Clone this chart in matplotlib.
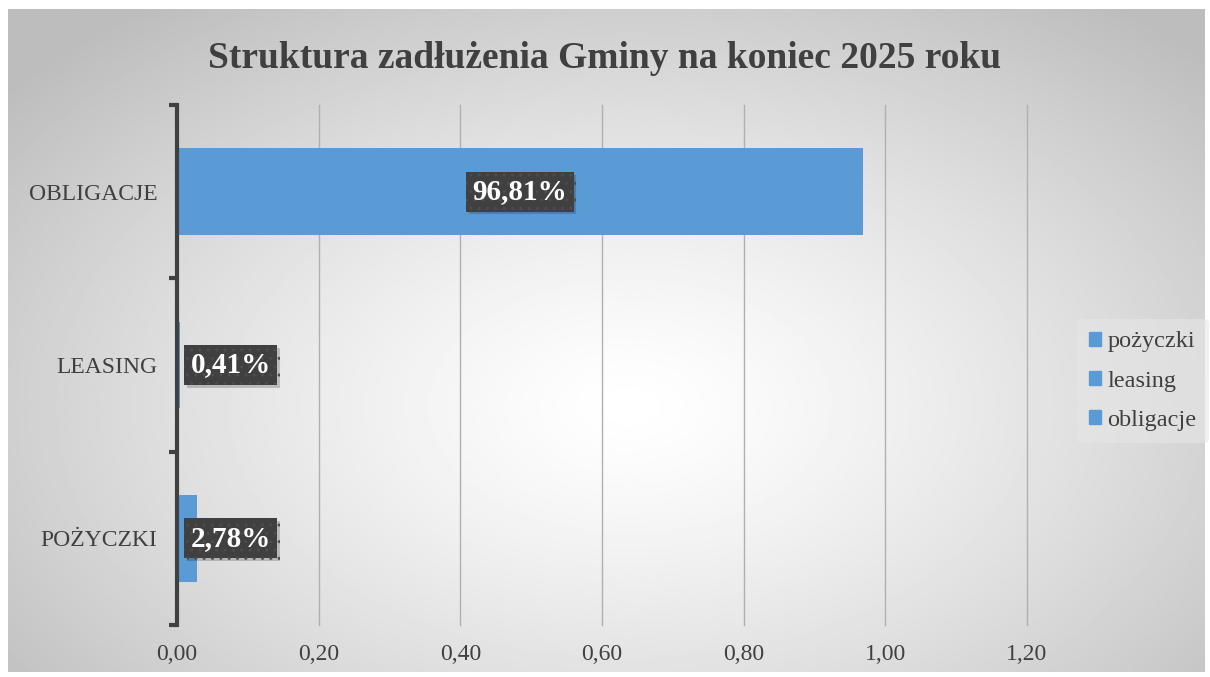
import numpy as np
import matplotlib.pyplot as plt
from matplotlib import patheffects as pe

categories = ["POŻYCZKI", "LEASING", "OBLIGACJE"]
values = [0.0278, 0.0041, 0.9681]
value_labels = ["2,78%", "0,41%", "96,81%"]
legend_labels = ["pożyczki", "leasing", "obligacje"]
x_ticks = [0.0, 0.2, 0.4, 0.6, 0.8, 1.0, 1.2]

BLUE = "#5B9BD5"
TXT = "#404040"
W, H = 1210, 677

plt.rcParams["font.family"] = ["Liberation Serif", "DejaVu Serif"]

fig = plt.figure(figsize=(W / 100, H / 100), dpi=100)
fig.patch.set_facecolor("white")

# radial gradient background of the chart area
bg = fig.add_axes([8 / W, 5 / H, 1197 / W, 663 / H])
yy, xx = np.mgrid[0:1:300j, 0:1:500j]
r = np.sqrt(((xx - 0.52) / 0.75) ** 2 + ((yy - 0.40) / 0.85) ** 2)
shade = np.clip(1.0 - 0.30 * r ** 1.3, 0.74, 1.0)
bg.imshow(shade, cmap="gray", vmin=0, vmax=1, aspect="auto", extent=[0, 1, 0, 1], origin="lower")
bg.set_axis_off()

ax = fig.add_axes([177 / W, (H - 625) / H, (1027 - 177) / W, (625 - 105) / H])
ax.patch.set_alpha(0)
y = np.arange(len(categories))
ax.barh(y, values, height=0.5, color=BLUE, zorder=3)
ax.set_xlim(0, 1.2)
ax.set_ylim(-0.5, len(categories) - 0.5)

ax.set_xticks(x_ticks)
ax.set_xticklabels([f"{t:.2f}".replace(".", ",") for t in x_ticks], fontsize=17, color=TXT)
ax.tick_params(axis="x", length=0, pad=14)
for xt in x_ticks[1:]:
    ax.axvline(xt, color="#b0b0b0", linewidth=1, zorder=0, clip_on=False)

ax.set_yticks(y)
ax.set_yticklabels(categories, fontsize=17, color=TXT)
ax.tick_params(axis="y", which="major", length=0, pad=14)
ax.set_yticks(np.arange(-0.5, len(categories)), minor=True)
ax.tick_params(axis="y", which="minor", length=6, width=3, color=TXT)

for s in ["top", "right", "bottom"]:
    ax.spines[s].set_visible(False)
ax.spines["left"].set_color(TXT)
ax.spines["left"].set_linewidth(3)
ax.spines["left"].set_zorder(4)

for yi, v, lab in zip(y, values, value_labels):
    if v > 0.2:
        xpos, ha = v / 2, "center"
    else:
        xpos, ha = 0.019, "left"
    t = ax.text(xpos, yi, lab, ha=ha, va="center", fontsize=21, fontweight="bold", color="white",
                zorder=5,
                bbox=dict(boxstyle="square,pad=0.22", facecolor="#404040", edgecolor="#4d4d4d",
                          hatch="..", linewidth=0))
    t.get_bbox_patch().set_path_effects([pe.SimplePatchShadow(offset=(2, -2), alpha=0.2), pe.Normal()])

handles = [plt.Rectangle((0, 0), 1, 1, color=BLUE) for _ in legend_labels]
leg = fig.legend(handles, legend_labels, loc="center left", bbox_to_anchor=(1077 / W, (H - 381) / H),
                 frameon=True, fontsize=17.5, handlelength=0.5, handleheight=0.5, handletextpad=0.25,
                 labelspacing=0.75, borderpad=0.5, borderaxespad=0, labelcolor=TXT)
leg.get_frame().set_facecolor("#e6e6e6")
leg.get_frame().set_edgecolor("none")
leg.get_frame().set_alpha(0.6)

fig.text(605 / W, (H - 58) / H, "Struktura zadłużenia Gminy na koniec 2025 roku", ha="center", va="center",
         fontsize=27, fontweight="bold", color=TXT)

fig.savefig("out.png", dpi=100)
